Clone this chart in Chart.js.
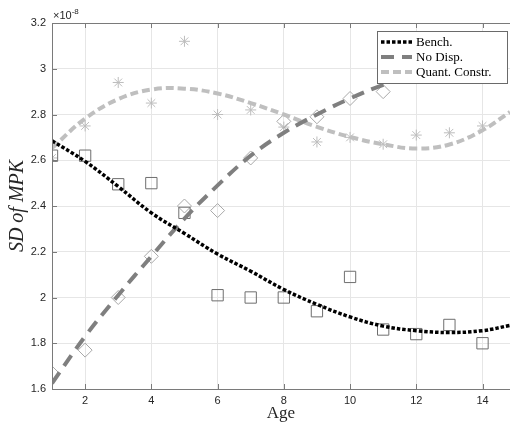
<!DOCTYPE html>
<html><head><meta charset="utf-8">
<script src="https://cdn.jsdelivr.net/npm/chart.js@4.4.0/dist/chart.umd.min.js"></script>
<style>html,body{margin:0;padding:0;background:#fff}#wrap{width:510px;height:425px}</style>
</head><body><div id="wrap"><canvas id="c" width="510" height="425"></canvas></div>
<script>
// Values are in units of 1e-8
const ages = [1,2,3,4,5,6,7,8,9,10,11,12,13,14];
const benchPts = [2.62,2.62,2.495,2.50,2.37,2.01,2.00,2.00,1.94,2.09,1.86,1.84,1.88,1.80];
const noDispAges = [1,2,3,4,5,6,7,8,9,10,11];
const noDispPts = [1.67,1.77,2.00,2.18,2.40,2.38,2.61,2.77,2.79,2.87,2.90];
const quantPts = [2.61,2.75,2.94,2.85,3.12,2.80,2.82,2.745,2.68,2.70,2.67,2.71,2.72,2.75];

const lineAges = [1,2,3,4,5,6,7,8,9,10,11,12,13,14,14.83];
const benchFit = [2.685,2.595,2.485,2.37,2.28,2.19,2.115,2.035,1.97,1.915,1.875,1.855,1.847,1.855,1.878];
const noDispFit = [1.625,1.83,2.01,2.18,2.345,2.49,2.62,2.72,2.80,2.87,2.93,2.98,3.02,3.05,3.07];
const quantFit = [2.653,2.782,2.867,2.909,2.913,2.892,2.85,2.80,2.746,2.702,2.67,2.651,2.669,2.731,2.811];

const xTicks = [2,4,6,8,10,12,14];
const yTicks = [1.6,1.8,2,2.2,2.4,2.6,2.8,3,3.2];
const seriesNames = ['Bench.','No Disp.','Quant. Constr.'];
const xTitle = 'Age';
const yTitle = 'SD of MPK';
const expBase = '\u00d710';
const expPow = '-8';

const pts = (xs, ys) => xs.map((x, i) => ({x, y: ys[i]}));

const lineStyles = [
  {color:'#000000', width:3.5, dash:[3.5,2]},
  {color:'#7f7f7f', width:4, dash:[13,8]},
  {color:'#bfbfbf', width:4, dash:[8,4]}
];

const matlabAxes = {
  id: 'matlabAxes',
  afterDraw(chart) {
    const ctx = chart.ctx;
    const a = chart.chartArea;
    const xs = chart.scales.x, ys = chart.scales.y;
    ctx.save();
    ctx.strokeStyle = '#7a7a7a';
    ctx.lineWidth = 1;
    ctx.beginPath();
    ctx.moveTo(a.left + 0.5, a.bottom + 0.5);
    ctx.lineTo(a.left + 0.5, a.top + 0.5);
    ctx.lineTo(a.right, a.top + 0.5);
    ctx.moveTo(a.left + 0.5, a.bottom + 0.5);
    ctx.lineTo(a.right, a.bottom + 0.5);
    ctx.stroke();
    ctx.beginPath();
    xTicks.forEach(v => {
      const px = Math.round(xs.getPixelForValue(v)) + 0.5;
      ctx.moveTo(px, a.bottom); ctx.lineTo(px, a.bottom - 5);
      ctx.moveTo(px, a.top); ctx.lineTo(px, a.top + 5);
    });
    yTicks.forEach(v => {
      const py = Math.round(ys.getPixelForValue(v)) + 0.5;
      ctx.moveTo(a.left, py); ctx.lineTo(a.left + 5, py);
    });
    ctx.stroke();
    ctx.fillStyle = '#262626';
    ctx.textBaseline = 'alphabetic';
    ctx.textAlign = 'left';
    ctx.font = '11px "Liberation Sans", Arial, sans-serif';
    ctx.fillText(expBase, a.left + 1, a.top - 4);
    const w = ctx.measureText(expBase).width;
    ctx.font = '8px "Liberation Sans", Arial, sans-serif';
    ctx.fillText(expPow, a.left + 1 + w, a.top - 9);
    const lx = 377.5, ly = 31.5, lw = 130, lh = 52;
    ctx.fillStyle = '#ffffff';
    ctx.fillRect(lx, ly, lw, lh);
    ctx.strokeStyle = '#6a6a6a';
    ctx.lineWidth = 1;
    ctx.strokeRect(lx, ly, lw, lh);
    const rows = [42, 57, 72];
    seriesNames.forEach((name, i) => {
      const st = lineStyles[i];
      ctx.save();
      ctx.strokeStyle = st.color;
      ctx.lineWidth = st.width;
      ctx.setLineDash(st.dash);
      ctx.beginPath();
      ctx.moveTo(381, rows[i]); ctx.lineTo(412, rows[i]);
      ctx.stroke();
      ctx.restore();
      ctx.fillStyle = '#000000';
      ctx.font = '13px "Liberation Serif", "Times New Roman", serif';
      ctx.textBaseline = 'middle';
      ctx.textAlign = 'left';
      ctx.fillText(name, 416, rows[i] + 1);
    });
    ctx.restore();
  }
};

const lineDs = (label, ys, st) => ({
  label, data: pts(lineAges, ys), showLine: true, pointRadius: 0,
  borderColor: st.color, borderWidth: st.width, borderDash: st.dash,
  borderCapStyle: 'butt', tension: 0.4, fill: false, order: 0
});
const markDs = (label, xs, ys, style, color, r) => ({
  label, data: pts(xs, ys), showLine: false, pointStyle: style, pointRadius: r,
  pointBorderColor: color, pointBackgroundColor: 'rgba(0,0,0,0)', pointBorderWidth: 1, order: 1
});

new Chart(document.getElementById('c'), {
  type: 'scatter',
  data: {
    datasets: [
      lineDs(seriesNames[0], benchFit, lineStyles[0]),
      lineDs(seriesNames[1], noDispFit, lineStyles[1]),
      lineDs(seriesNames[2], quantFit, lineStyles[2]),
      markDs('Bench. data', ages, benchPts, 'rect', '#6e6e6e', 8),
      markDs('No Disp. data', noDispAges, noDispPts, 'rectRot', '#a8a8a8', 7),
      markDs('Quant. data', ages, quantPts, 'star', '#bdbdbd', 5.5)
    ]
  },
  options: {
    responsive: false, animation: false, devicePixelRatio: 1,
    layout: {autoPadding: false, padding: {left: 0, right: 0, top: 23, bottom: 0}},
    plugins: {legend: {display: false}, tooltip: {enabled: false}},
    scales: {
      x: {
        type: 'linear', min: 1, max: 14.83,
        afterBuildTicks: s => { s.ticks = xTicks.map(v => ({value: v})); },
        afterFit: s => { s.height = 36; s.paddingLeft = 0; s.paddingRight = 0; },
        grid: {color: '#e6e6e6', drawTicks: false},
        border: {display: false},
        ticks: {padding: 5, color: '#262626', font: {family: '"Liberation Sans", Arial, sans-serif', size: 11}, callback: v => String(v)},
        title: {display: true, text: xTitle, color: '#262626', padding: {top: 0, bottom: 1},
          font: {family: '"Liberation Serif", "Times New Roman", serif', size: 17}}
      },
      y: {
        type: 'linear', min: 1.6, max: 3.2,
        afterBuildTicks: s => { s.ticks = yTicks.map(v => ({value: v})); },
        afterFit: s => { s.width = 52; s.paddingTop = 0; s.paddingBottom = 0; },
        grid: {color: '#e6e6e6', drawTicks: false},
        border: {display: false},
        ticks: {padding: 6, color: '#262626', font: {family: '"Liberation Sans", Arial, sans-serif', size: 11}, callback: v => String(v)},
        title: {display: true, text: yTitle, color: '#262626', padding: {top: 6, bottom: 0},
          font: {family: '"Liberation Serif", "Times New Roman", serif', size: 20, style: 'italic'}}
      }
    }
  },
  plugins: [matlabAxes]
});
</script></body></html>
